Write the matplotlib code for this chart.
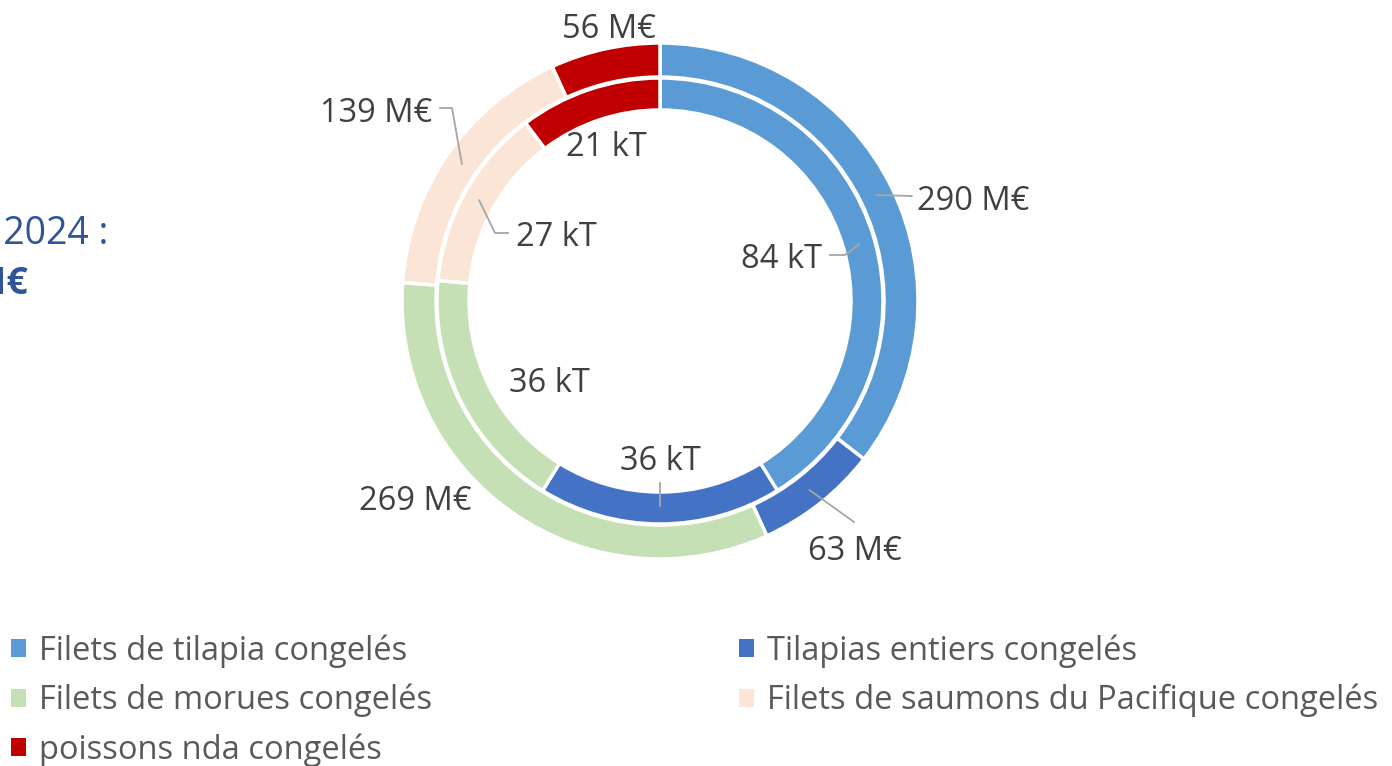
import matplotlib.pyplot as plt
from matplotlib.patches import Patch
import numpy as np

# ── Data ──────────────────────────────────────────────────────────────────────
categories = ["Filets de tilapia congelés", "Tilapias entiers congelés",
              "Filets de morues congelés", "Filets de saumons du Pacifique congelés",
              "poissons nda congelés"]
value_meur = [290, 63, 269, 139, 56]   # outer ring, M€
volume_kt = [84, 36, 36, 27, 21]       # inner ring, kT
colors = ["#5B9BD5", "#4472C4", "#C5E0B4", "#FBE5D6", "#C00000"]

total_meur = sum(value_meur)

plt.rcParams["font.family"] = ["Open Sans", "DejaVu Sans"]

W, H = 1392, 766
fig = plt.figure(figsize=(W / 100, H / 100), dpi=100)
ax = fig.add_axes([0, 0, 1, 1])

def py(y):
    # pixel row (from top) -> data y
    return H - y

cx, cy = 660, py(301)
R_OUT, W_OUT = 258, 34
R_IN, W_IN = 223, 32

wp = dict(edgecolor="white", linewidth=2.5)
ax.pie(value_meur, radius=R_OUT, center=(cx, cy), startangle=90, counterclock=False,
       colors=colors, wedgeprops=dict(width=W_OUT, **wp))
ax.pie(volume_kt, radius=R_IN, center=(cx, cy), startangle=90, counterclock=False,
       colors=colors, wedgeprops=dict(width=W_IN, **wp))
ax.set_xlim(0, W)
ax.set_ylim(0, H)
ax.set_aspect("equal")
ax.axis("off")

def anchor(values, i, r):
    # mid angle of wedge i, clockwise from 12 o'clock
    cum = np.cumsum([0] + list(values))
    a = np.deg2rad((cum[i] + values[i] / 2) / sum(values) * 360)
    return cx + r * np.sin(a), cy + r * np.cos(a)

# ── Labels (text position in px, alignment, elbow point or None) ──────────────
lbl_color = "#404040"
lead_color = "#A6A6A6"
FS = 23.5
outer_layout = [((917, 201), "left", (912, 196)),
                ((855, 551), "center", None),
                ((415, 501), "center", None),
                ((432, 113), "right", (452, 108)),
                ((609, 29), "center", None)]
inner_layout = [((822, 259), "right", (845, 255)),
                ((660, 461), "center", None),
                ((549, 383), "center", None),
                ((516, 238), "left", (495, 233)),
                ((606, 148), "center", None)]

def draw_labels(values, unit, layout, r_mid, elbow_ids):
    for i, (v, (pos, ha, elbow)) in enumerate(zip(values, layout)):
        tx, ty = pos[0], py(pos[1])
        ax.text(tx, ty, f"{v} {unit}", ha=ha, va="center", fontsize=FS, color=lbl_color)
        if i in elbow_ids:
            ax_, ay_ = anchor(values, i, r_mid)
            ex, ey = elbow[0], py(elbow[1])
            end_x = tx + (-8 if ha == "left" else 8)
            ax.plot([ax_, ex, end_x], [ay_, ey, ey], color=lead_color, lw=1.3)

draw_labels(value_meur, "M€", outer_layout, R_OUT - W_OUT / 2, (0, 3))
draw_labels(volume_kt, "kT", inner_layout, R_IN - W_IN / 2, (0, 3))

# straight leaders without elbow
x0, y0 = anchor(value_meur, 1, R_OUT - W_OUT / 2)
ax.plot([x0, 854], [y0, py(522)], color=lead_color, lw=1.3)
x1, y1 = anchor(volume_kt, 1, R_IN - W_IN / 2)
ax.plot([x1, x1], [y1 + 2, py(483)], color=lead_color, lw=1.3)

# ── Title fragment on the left (cut by the frame) ─────────────────────────────
ax.text(108, py(234), "Importations en 2024 :", ha="right", va="center",
        fontsize=27, color="#2F5597")
ax.text(28, py(284), f"{total_meur} M€", ha="right", va="center",
        fontsize=27, color="#2F5597", fontweight="bold")

# ── Legend ────────────────────────────────────────────────────────────────────
order = [0, 2, 4, 1, 3]
handles = [Patch(facecolor=colors[i], edgecolor="none") for i in order]
labels = [categories[i] for i in order]
fig.legend(handles, labels, ncol=2, loc="upper left", bbox_to_anchor=(0.0, 1 - 623 / H),
           frameon=False, fontsize=FS, labelcolor="#595959",
           handlelength=0.46, handleheight=0.46, handletextpad=0.4,
           columnspacing=9.4, labelspacing=0.49, borderaxespad=0, borderpad=0.35)

plt.savefig("out.png", dpi=100)
